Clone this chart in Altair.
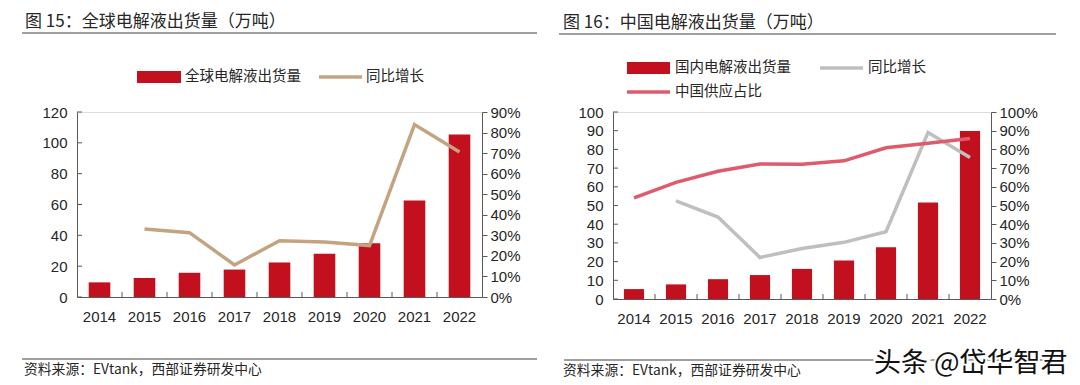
import altair as alt
import pandas as pd

years = ["2014", "2015", "2016", "2017", "2018", "2019", "2020", "2021", "2022"]

# Figure 15: global electrolyte shipments (10k t) and YoY growth
global_ship = [9.5, 12.3, 15.7, 17.8, 22.4, 28.0, 34.8, 62.6, 105.4]
global_yoy = [None, 0.331, 0.313, 0.156, 0.274, 0.268, 0.250, 0.839, 0.705]

# Figure 16: China electrolyte shipments (10k t), YoY growth, China share
china_ship = [5.3, 7.8, 10.6, 12.8, 16.1, 20.6, 27.7, 51.6, 89.9]
china_yoy = [None, 0.525, 0.438, 0.222, 0.270, 0.303, 0.360, 0.890, 0.757]
china_share = [0.541, 0.624, 0.683, 0.722, 0.720, 0.739, 0.809, 0.833, 0.858]

left_ticks = [0, 20, 40, 60, 80, 100, 120]
left_pct_ticks = [0, 0.1, 0.2, 0.3, 0.4, 0.5, 0.6, 0.7, 0.8, 0.9]
right_ticks = [0, 10, 20, 30, 40, 50, 60, 70, 80, 90, 100]
right_pct_ticks = [0, 0.1, 0.2, 0.3, 0.4, 0.5, 0.6, 0.7, 0.8, 0.9, 1.0]

title1 = "图 15：全球电解液出货量（万吨）"
title2 = "图 16：中国电解液出货量（万吨）"
leg1_bar = "全球电解液出货量"
leg2_bar = "国内电解液出货量"
leg_yoy = "同比增长"
leg_share = "中国供应占比"
source = "资料来源：EVtank，西部证券研发中心"
watermark = "头条 @岱华智君"

RED = "#C3101F"
TAN = "#C4A381"
GREY = "#BFBFBF"
PINK = "#E05A6E"
AX = "#595959"
TXT = "#262626"
CJK = "Noto Sans CJK SC"
LAT = "Liberation Sans"

df1 = pd.DataFrame({"year": years, "ship": global_ship, "yoy": global_yoy})
df2 = pd.DataFrame({"year": years, "ship": china_ship, "yoy": china_yoy, "share": china_share})
one = pd.DataFrame({"a": [0]})


def xenc(**kw):
    return alt.X(
        "year:N", sort=years, title=None,
        scale=alt.Scale(paddingInner=0, paddingOuter=0),
        axis=alt.Axis(labelAngle=0, labelFontSize=15, labelFont=LAT, labelColor=TXT,
                      ticks=False, domainColor=AX, domainWidth=1, labelPadding=12),
        **kw)


def left_axis(vals):
    return alt.Axis(orient="left", values=vals, ticks=False, labelFontSize=15, labelFont=LAT,
                    labelColor=TXT, domainColor=AX, grid=False, title=None, labelPadding=10)


def right_axis(vals):
    return alt.Axis(orient="right", values=vals, format=".0%", tickSize=5, tickColor=AX,
                    labelFontSize=15, labelFont=LAT, labelColor=TXT, domainColor=AX,
                    grid=False, title=None, labelPadding=3)


def txt(s, x, y, size=13, font=CJK, color=TXT, **kw):
    return alt.Chart(one).mark_text(text=s, align="left", baseline="middle", font=font,
                                    fontSize=size, color=color, **kw).encode(
        x=alt.value(x), y=alt.value(y))


def hrule(x1, x2, y, color="#7F7F7F", w=1.5):
    return alt.Chart(one).mark_rule(color=color, strokeWidth=w).encode(
        x=alt.value(x1), x2=alt.value(x2), y=alt.value(y))


def swatch_rect(x1, x2, y1, y2, color):
    return alt.Chart(one).mark_rect(color=color).encode(
        x=alt.value(x1), x2=alt.value(x2), y=alt.value(y1), y2=alt.value(y2))


def panel(df, W, H, ymax, yt, pmax, pt, lines, annots):
    bars = alt.Chart(df).mark_bar(color=RED, width=alt.RelativeBandSize(0.48)).encode(
        x=xenc(),
        y=alt.Y("ship:Q", scale=alt.Scale(domain=[0, ymax], nice=False), axis=left_axis(yt)))
    yt_rules = alt.Chart(pd.DataFrame({"v": yt})).mark_rule(color=AX).encode(
        y=alt.Y("v:Q", scale=alt.Scale(domain=[0, ymax], nice=False), axis=None),
        x=alt.value(0), x2=alt.value(5))
    xt_rules = alt.Chart(pd.DataFrame({"year": years[1:]})).mark_rule(color=AX).encode(
        x=xenc(bandPosition=0), y=alt.value(H), y2=alt.value(H - 5))
    line_layers = []
    for i, (col, color) in enumerate(lines):
        ax = right_axis(pt) if i == 0 else None
        line_layers.append(alt.Chart(df).mark_line(color=color, strokeWidth=3.5).encode(
            x=xenc(),
            y=alt.Y(f"{col}:Q", scale=alt.Scale(domain=[0, pmax], nice=False), axis=ax)))
    return alt.layer(bars, yt_rules, xt_rules, *line_layers, *annots).resolve_scale(
        y="independent").properties(width=W, height=H)


W1, H1 = 405, 185
left_ann = [
    txt(title1, -52, -90, size=17),
    hrule(-55, 460, -79),
    swatch_rect(60, 104, -41, -29, RED),
    txt(leg1_bar, 108, -35, size=14.5),
    hrule(242, 285, -35, color=TAN, w=3.5),
    txt(leg_yoy, 289, -35, size=14.5),
    hrule(-55, 460, 247),
    txt(source, -53, 258, size=13.8),
]
left = panel(df1, W1, H1, 120, left_ticks, 0.9, left_pct_ticks, [("yoy", TAN)], left_ann)

W2, H2 = 378, 187
right_ann = [
    txt(title2, -50, -89, size=17),
    hrule(-54, 443, -78),
    swatch_rect(14, 57, -50, -38, RED),
    txt(leg2_bar, 62, -44, size=14.5),
    hrule(207, 250, -44, color=GREY, w=3.5),
    txt(leg_yoy, 255, -44, size=14.5),
    hrule(14, 57, -20, color=PINK, w=3.5),
    txt(leg_share, 62, -20, size=14.5),
    hrule(-49, 443, 248),
    txt(source, -50, 259, size=13.8),
    txt(watermark, 261, 252, size=27, color="white", stroke="white", strokeWidth=4),
    txt(watermark, 261, 252, size=27, color="#111111"),
]
right = panel(df2, W2, H2, 100, right_ticks, 1.0, right_pct_ticks,
              [("yoy", GREY), ("share", PINK)], right_ann)

chart = alt.hconcat(left, right, spacing=18).properties(
    padding={"left": 12, "top": 4, "right": 0, "bottom": 0}
).configure_view(stroke=None).configure(background="white")

chart.save("out.html", embed_options={"renderer": "svg", "actions": False})
